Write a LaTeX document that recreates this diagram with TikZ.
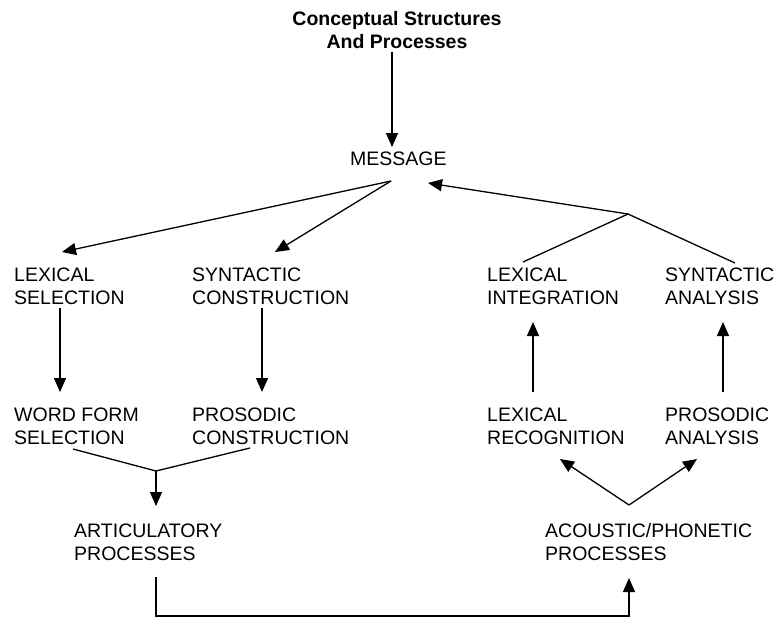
\documentclass[tikz,border=0pt]{standalone}
\usepackage{fontspec}
\setmainfont{Liberation Sans}
\usetikzlibrary{arrows.meta,calc}
\begin{document}
\begin{tikzpicture}[x=1pt,y=-1pt,
  lbl/.style={anchor=base west,inner sep=0pt,align=left,font=\fontsize{19.5}{23}\selectfont},
  ttl/.style={anchor=base,inner sep=0pt,align=center,font=\fontsize{19.5}{23}\selectfont\bfseries},
  conn/.style={line width=1.3pt},
  arr/.style={conn,-{Triangle[length=14pt,width=12pt]}}]
\useasboundingbox (0,0) rectangle (779,627);
\node[ttl] (title) at (397,48) {Conceptual Structures\\And Processes};
\node[lbl] (msg) at (350,165) {MESSAGE};
\node[lbl] (lexsel) at (14,304) {LEXICAL\\SELECTION};
\node[lbl] (syncon) at (192,304) {SYNTACTIC\\CONSTRUCTION};
\node[lbl] (lexint) at (487,304) {LEXICAL\\INTEGRATION};
\node[lbl] (synana) at (665,304) {SYNTACTIC\\ANALYSIS};
\node[lbl] (wfs) at (14,444) {WORD FORM\\SELECTION};
\node[lbl] (proscon) at (192,444) {PROSODIC\\CONSTRUCTION};
\node[lbl] (lexrec) at (487,444) {LEXICAL\\RECOGNITION};
\node[lbl] (prosana) at (665,444) {PROSODIC\\ANALYSIS};
\node[lbl] (artic) at (74,560) {ARTICULATORY\\PROCESSES};
\node[lbl] (acou) at (545,560) {ACOUSTIC/PHONETIC\\PROCESSES};
\coordinate (j1) at (628,214);
\coordinate (j2) at (156,471);
% title to message
\draw[arr] ($(title.base)+(-5,4)$) -- ($(msg.base west)+(42,-18)$);
% message to production
\draw[arr] ($(msg.base west)+(41,16)$) -- ($(lexsel.base west)+(48,-52)$);
\draw[arr] ($(msg.base west)+(41,16)$) -- ($(syncon.base west)+(83,-52)$);
% comprehension to message
\draw[conn] ($(lexint.base west)+(36,-42)$) -- (j1) -- ($(synana.base west)+(70,-41)$);
\draw[arr] (j1) -- ($(msg.base west)+(78,18)$);
% production verticals
\draw[arr] ($(lexsel.base west)+(46,4)$) -- ($(wfs.base west)+(46,-52)$);
\draw[arr] ($(syncon.base west)+(70,4)$) -- ($(proscon.base west)+(70,-52)$);
% comprehension verticals
\draw[arr] ($(lexrec.base west)+(46,-52)$) -- ($(lexint.base west)+(46,18)$);
\draw[arr] ($(prosana.base west)+(58,-52)$) -- ($(synana.base west)+(58,18)$);
% merge to articulatory
\draw[conn] ($(wfs.base west)+(59,5)$) -- (j2) -- ($(proscon.base west)+(58,4)$);
\draw[arr] (j2) -- ($(artic.base west)+(82,-54)$);
% articulatory to acoustic
\draw[arr] ($(artic.base west)+(82,17)$) -- ++(0,39) -| ($(acou.base west)+(84,18)$);
% acoustic to recognition/analysis
\draw[arr] ($(acou.base west)+(84,-55)$) -- ($(lexrec.base west)+(73,15)$);
\draw[arr] ($(acou.base west)+(84,-55)$) -- ($(prosana.base west)+(32,15)$);
\end{tikzpicture}
\end{document}
